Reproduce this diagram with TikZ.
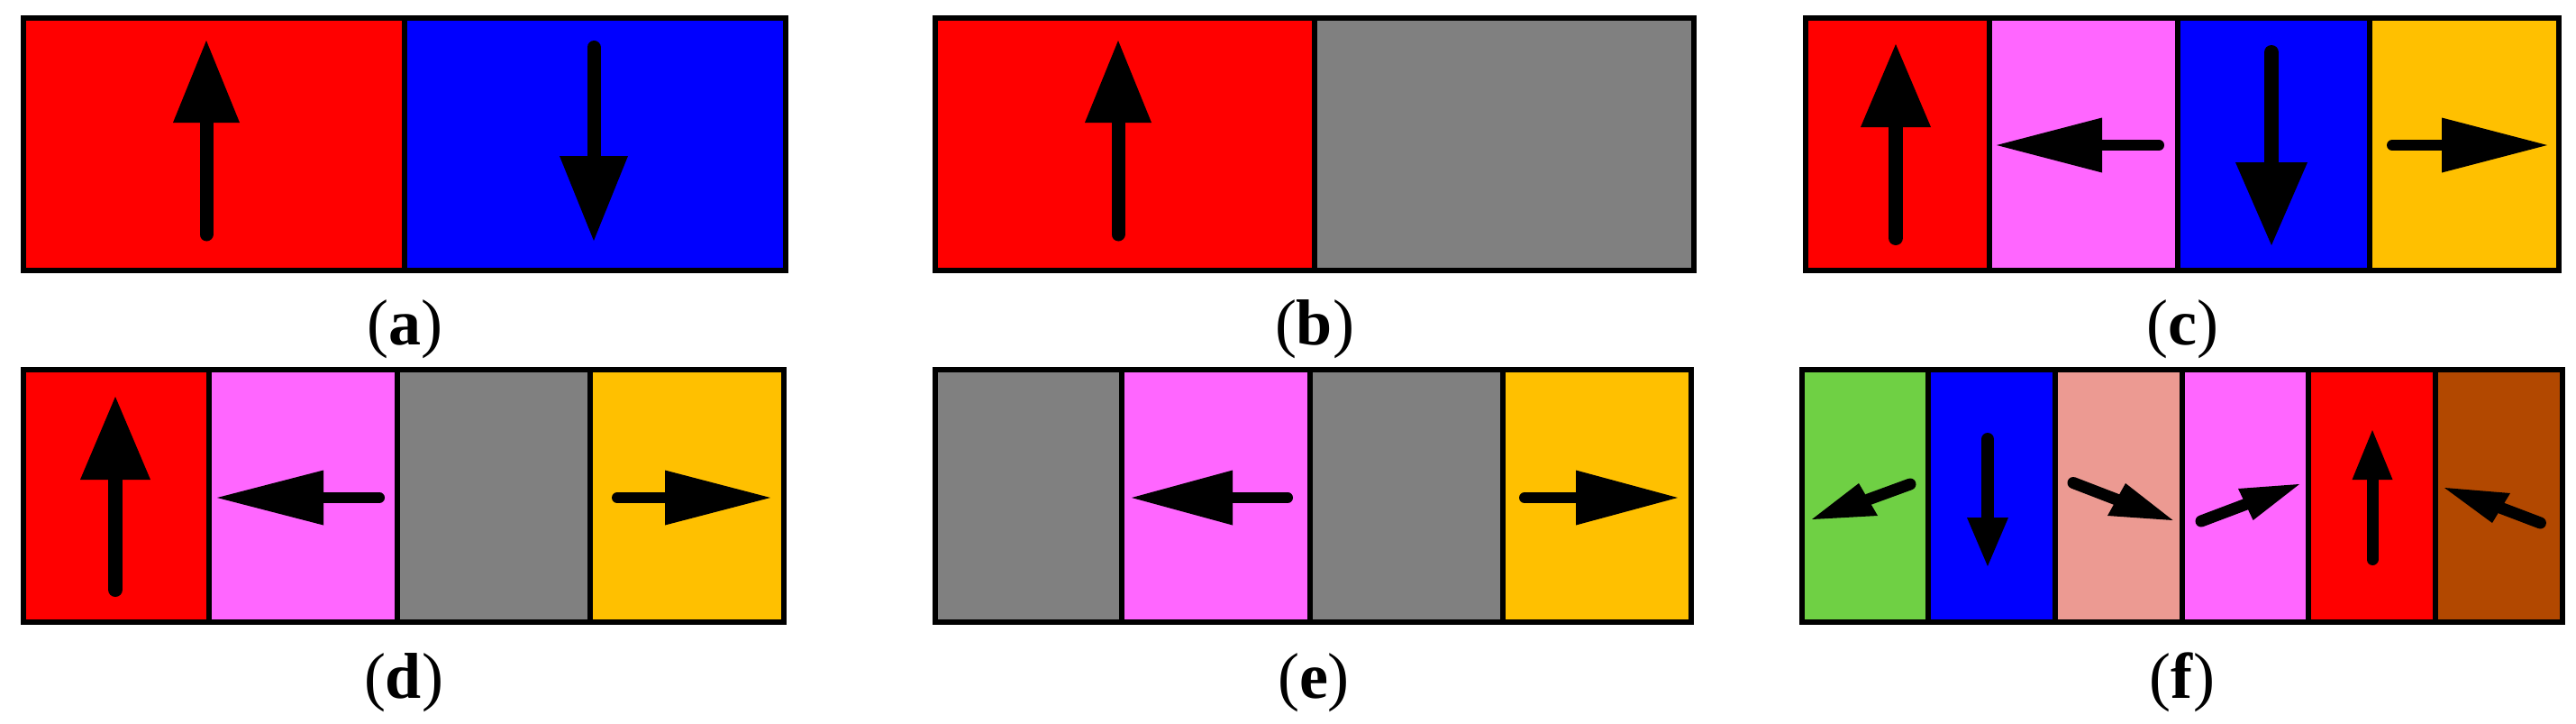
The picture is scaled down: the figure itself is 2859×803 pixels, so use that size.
\documentclass[tikz,border=0pt]{standalone}
\usepackage{fontspec}
\setmainfont{Liberation Serif}
\definecolor{cRed}{RGB}{255,0,0}
\definecolor{cBlue}{RGB}{0,0,255}
\definecolor{cPink}{RGB}{255,102,255}
\definecolor{cYel}{RGB}{255,192,0}
\definecolor{cGrey}{RGB}{128,128,128}
\definecolor{cGreen}{RGB}{111,208,68}
\definecolor{cSalmon}{RGB}{236,154,146}
\definecolor{cBrown}{RGB}{178,72,0}
\tikzset{
  divider/.style={line width=1.4pt, draw=black},
  frame/.style={line width=1.7pt, draw=black, line join=miter},
  lab/.style={anchor=base, font=\fontsize{18}{20}\selectfont, inner sep=0pt}
}
% vertical arrow: x, tail, base, tip, half width, shaft width (px)
\newcommand{\myvarrow}[6]{%
  \draw[line width=#6*0.25pt, line cap=round] (#1,#2) -- (#1,#3);
  \fill (#1,#4) -- (#1-#5,#3) -- (#1+#5,#3) -- cycle;}
% horizontal arrow: y, tail, base, tip, half height, shaft width (px)
\newcommand{\myharrow}[6]{%
  \draw[line width=#6*0.25pt, line cap=round] (#2,#1) -- (#3,#1);
  \fill (#4,#1) -- (#3,#1-#5) -- (#3,#1+#5) -- cycle;}
% diagonal arrow: tail, base mid, tip, barb1, barb2, shaft width
\newcommand{\mydarrow}[6]{%
  \draw[line width=#6*0.25pt, line cap=round] (#1) -- (#2);
  \fill (#3) -- (#4) -- (#5) -- cycle;}
\begin{document}
\begin{tikzpicture}[x=0.25pt,y=-0.25pt]
\useasboundingbox (0,0) rectangle (2859,803);
% ---------- (a)
\fill[cRed] (26,20) rectangle (449,300);
\fill[cBlue] (449,20) rectangle (872,300);
\draw[divider] (449,20) -- (449,300);
\draw[frame] (26,20) rectangle (872,300);
\myvarrow{229}{260}{136}{45}{37}{15}
\myvarrow{659}{52.5}{173}{267}{38}{15}
\node[lab] (labA) at (449,382) {(\textbf{a})};
% ---------- (b)
\fill[cRed] (1038,20) rectangle (1459,300);
\fill[cGrey] (1459,20) rectangle (1880,300);
\draw[divider] (1459,20) -- (1459,300);
\draw[frame] (1038,20) rectangle (1880,300);
\myvarrow{1241}{260}{136}{45}{37}{15}
\node[lab] (labB) at (1459,382) {(\textbf{b})};
% ---------- (c)
\fill[cRed] (2004,20) rectangle (2208,300);
\fill[cPink] (2208,20) rectangle (2417,300);
\fill[cBlue] (2417,20) rectangle (2630,300);
\fill[cYel] (2630,20) rectangle (2840,300);
\foreach \d in {2208,2417,2630} \draw[divider] (\d,20) -- (\d,300);
\draw[frame] (2004,20) rectangle (2840,300);
\myvarrow{2104}{264}{141}{49}{39}{16}
\myharrow{161}{2396}{2333}{2216}{30.5}{12}
\myvarrow{2521}{58}{180}{272}{40}{16}
\myharrow{161}{2655}{2710}{2827}{30.5}{12}
\node[lab] (labC) at (2422,382) {(\textbf{c})};
% ---------- (d)
\fill[cRed] (26,410) rectangle (232,690);
\fill[cPink] (232,410) rectangle (441,690);
\fill[cGrey] (441,410) rectangle (655,690);
\fill[cYel] (655,410) rectangle (870,690);
\foreach \d in {232,441,655} \draw[divider] (\d,410) -- (\d,690);
\draw[frame] (26,410) rectangle (870,690);
\myvarrow{128}{654}{532}{440}{39}{16}
\myharrow{552}{421}{359}{241}{30.5}{12}
\myharrow{552}{685}{738}{855}{30.5}{12}
\node[lab] (labD) at (448,774) {(\textbf{d})};
% ---------- (e)
\fill[cGrey] (1038,410) rectangle (1245,690);
\fill[cPink] (1245,410) rectangle (1454,690);
\fill[cGrey] (1454,410) rectangle (1668,690);
\fill[cYel] (1668,410) rectangle (1877,690);
\foreach \d in {1245,1454,1668} \draw[divider] (\d,410) -- (\d,690);
\draw[frame] (1038,410) rectangle (1877,690);
\myharrow{552}{1429}{1368}{1256}{30.5}{12}
\myharrow{552}{1692}{1749}{1862}{30.5}{12}
\node[lab] (labE) at (1458,774) {(\textbf{e})};
% ---------- (f)
\fill[cGreen] (2000,410) rectangle (2140,690);
\fill[cBlue] (2140,410) rectangle (2281,690);
\fill[cSalmon] (2281,410) rectangle (2422,690);
\fill[cPink] (2422,410) rectangle (2562,690);
\fill[cRed] (2562,410) rectangle (2703,690);
\fill[cBrown] (2703,410) rectangle (2844,690);
\foreach \d in {2140,2281,2422,2562,2703} \draw[divider] (\d,410) -- (\d,690);
\draw[frame] (2000,410) rectangle (2844,690);
\mydarrow{2120,537}{2073.5,554}{2011,576}{2063,536}{2084,572}{13}
\myvarrow{2206}{487}{574}{628}{23}{14}
\mydarrow{2301,535.5}{2349,554}{2411.5,577}{2359,536}{2339,572}{13}
\mydarrow{2443,578}{2492,559.5}{2552,537}{2484,542}{2500.6,577}{13}
\myvarrow{2633}{620.5}{532}{477}{22.5}{13}
\mydarrow{2819.4,580}{2776,563.5}{2713,541}{2786,547}{2766,580}{13}
\node[lab] (labF) at (2422,774) {(\textbf{f})};
\end{tikzpicture}
\end{document}
